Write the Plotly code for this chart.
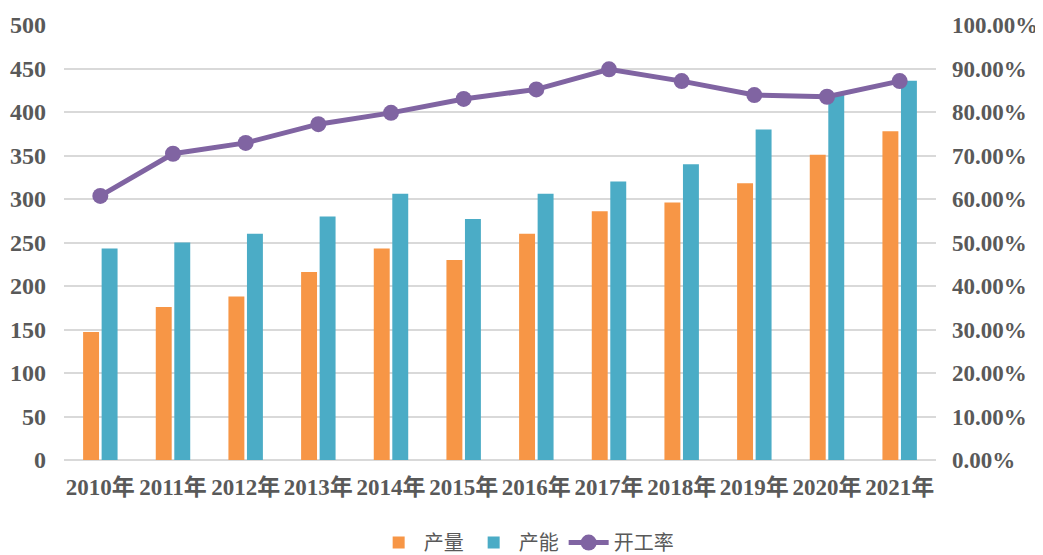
import plotly.graph_objects as go

years = ["2010年", "2011年", "2012年", "2013年", "2014年", "2015年",
         "2016年", "2017年", "2018年", "2019年", "2020年", "2021年"]
output = [147, 176, 188, 216, 243, 230, 260, 286, 296, 318, 351, 378]
capacity = [243, 250, 260, 280, 306, 277, 306, 320, 340, 380, 420, 436]
rate = [0.607, 0.704, 0.729, 0.772, 0.798, 0.830, 0.852, 0.898, 0.871, 0.839, 0.835, 0.871]

font_num = "Liberation Serif, Noto Sans CJK SC, serif"
gray = "#595959"

fig = go.Figure()
fig.add_trace(go.Bar(x=years, y=output, name="产量", marker_color="#F79646",
                     marker_line_width=0))
fig.add_trace(go.Bar(x=years, y=capacity, name="产能", marker_color="#4BACC6",
                     marker_line_width=0))
fig.add_trace(go.Scatter(x=years, y=rate, name="开工率", yaxis="y2",
                         mode="lines+markers",
                         line=dict(color="#8064A2", width=5),
                         marker=dict(color="#8064A2", size=16)))

# page body has an 8px margin, so the figure is shifted; compensate
fig.update_layout(
    width=1035, height=547,
    paper_bgcolor="white", plot_bgcolor="white",
    margin=dict(l=56, r=107, t=17, b=95, autoexpand=False),
    barmode="group", bargap=0.49, bargroupgap=0.14,
    font=dict(family=font_num, color=gray),
    xaxis=dict(showgrid=False, showline=False, ticks="", automargin=False,
               range=[-0.5, len(years) - 0.5], tickangle=0,
               tickfont=dict(family=font_num, size=23, color=gray, weight="bold"),
               ticklabelstandoff=11),
    yaxis=dict(range=[0, 500], dtick=50, showgrid=True, gridcolor="#D9D9D9",
               gridwidth=2, zeroline=True, zerolinecolor="#D9D9D9", zerolinewidth=2,
               automargin=False,
               tickfont=dict(family=font_num, size=24, color=gray, weight="bold"),
               ticklabelstandoff=17),
    yaxis2=dict(range=[0, 1], dtick=0.1, tickformat=".2%", overlaying="y",
                side="right", showgrid=False, zeroline=False, automargin=False,
                tickfont=dict(family=font_num, size=23, color=gray, weight="bold"),
                ticklabelstandoff=15),
    legend=dict(orientation="h", x=0.53, xanchor="center", y=-0.145, yanchor="top",
                font=dict(family="Noto Sans CJK SC", size=20, color=gray),
                traceorder="normal", itemwidth=40),
)

fig.write_html("out.html")
